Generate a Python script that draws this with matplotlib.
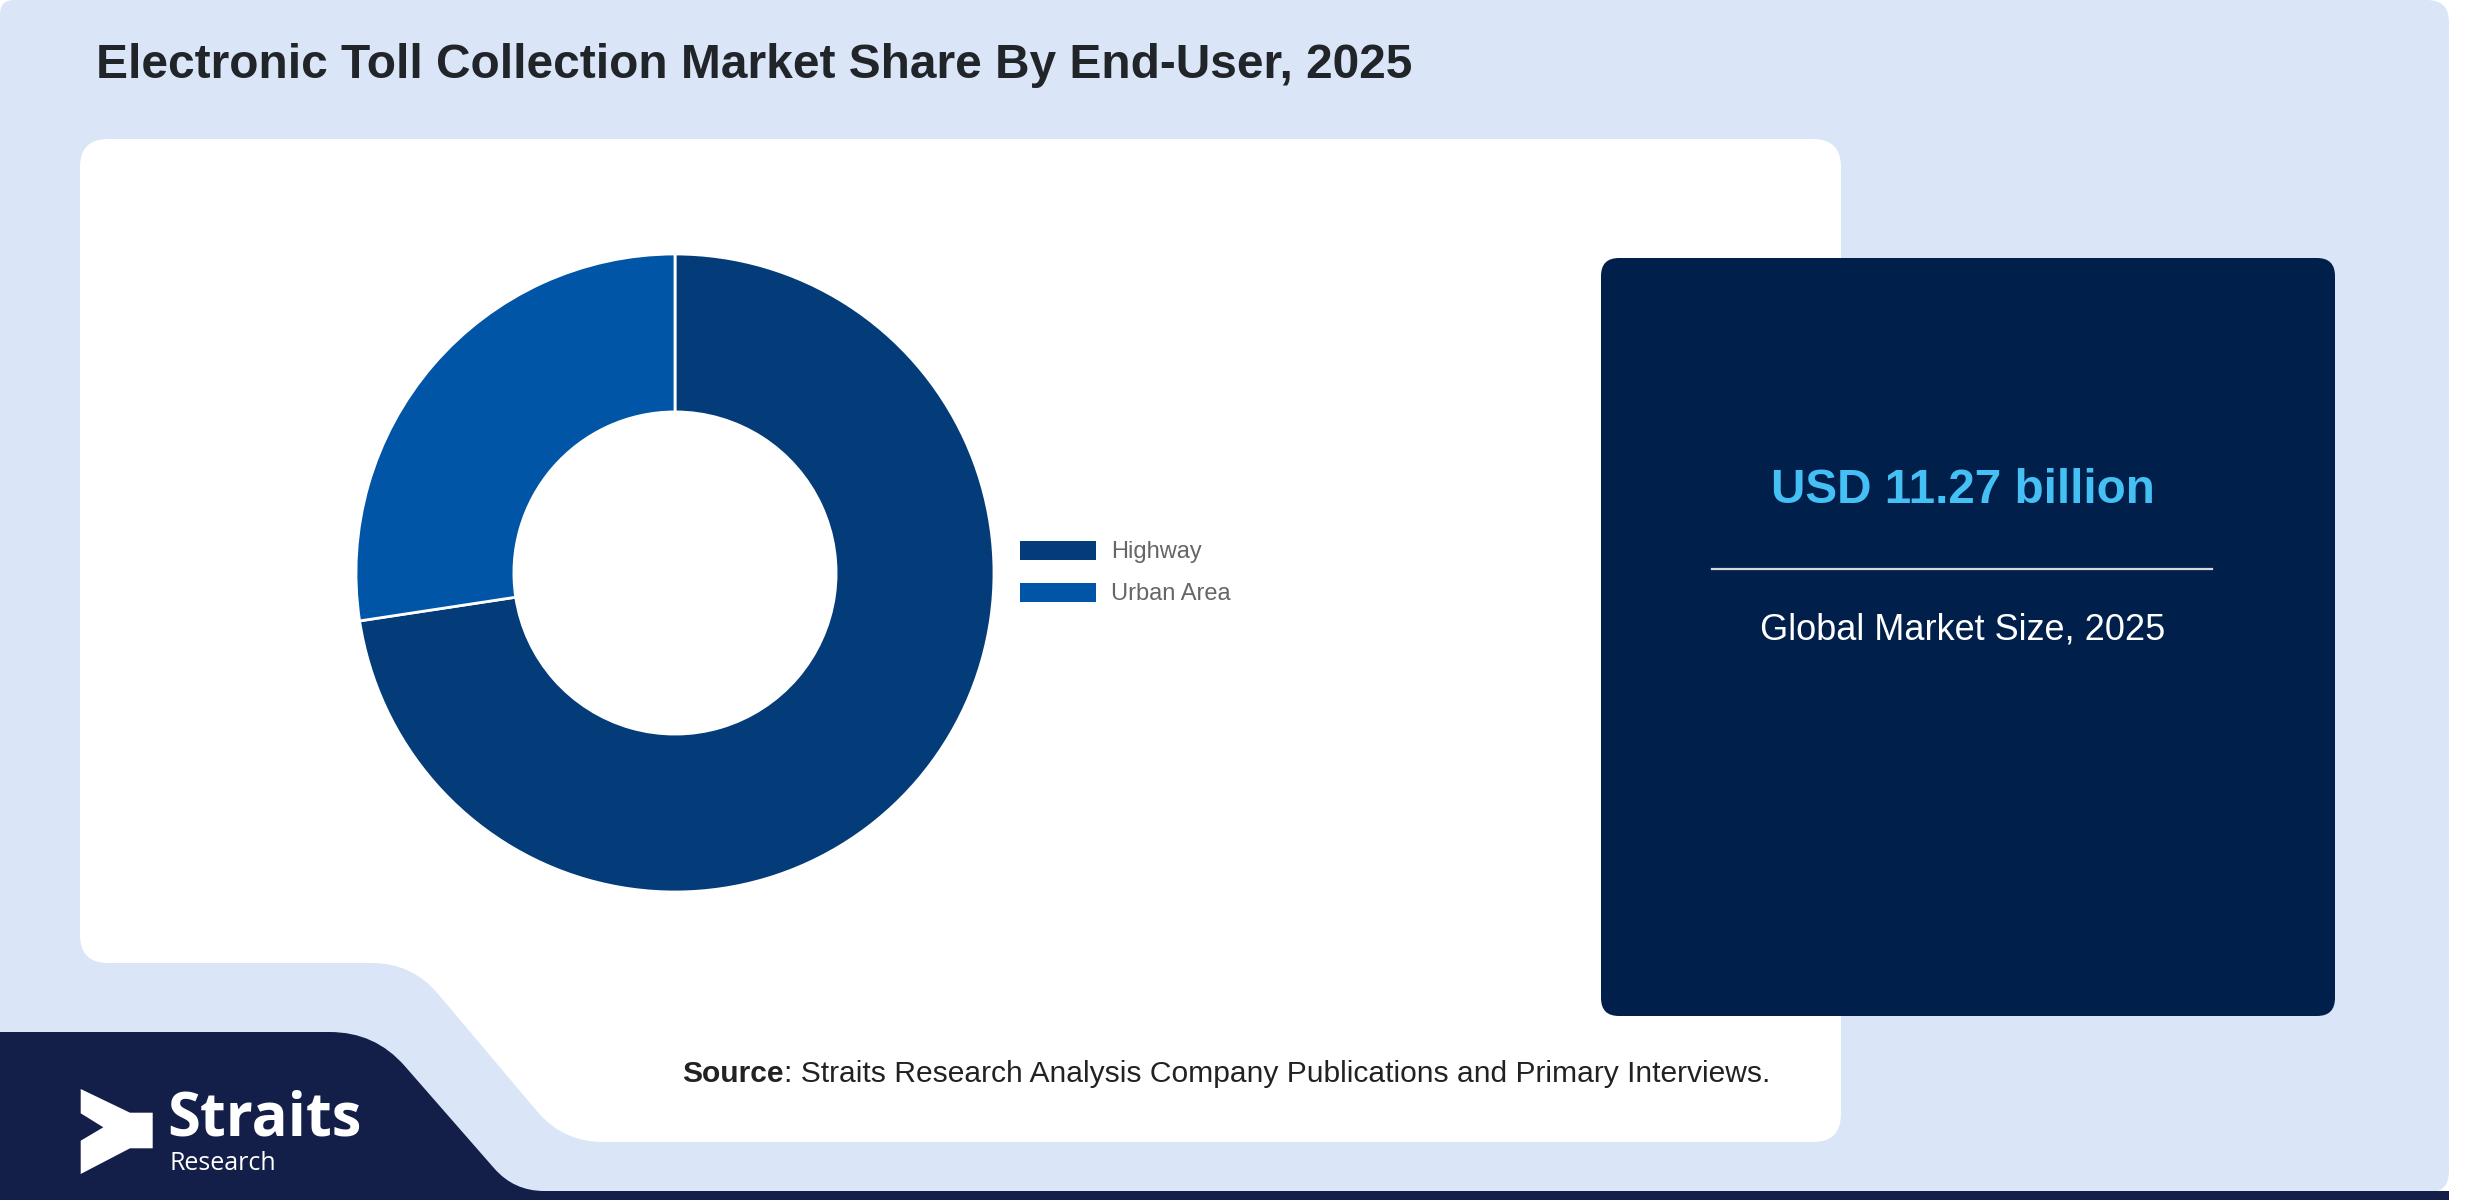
"""Electronic toll collection market share by end-user, donut chart"""
import numpy as np
import matplotlib
matplotlib.use("Agg")
import matplotlib.pyplot as plt
from matplotlib.path import Path
from matplotlib.patches import PathPatch, Patch, Polygon

plt.rcParams['font.family'] = ['Liberation Sans', 'DejaVu Sans']

# data
segments = ["Highway", "Urban Area"]
shares = [72.6, 27.4]
seg_colors = ["#033C78", "#0055A6"]
market_value = "USD 11.27 billion"
market_label = "Global Market Size, 2025"
title = "Electronic Toll Collection Market Share By End-User, 2025"
source_text = ": Straits Research Analysis Company Publications and Primary Interviews."


def rounded_poly(pts, radii, **kw):
    """polygon with rounded corners (quadratic curves)"""
    verts, codes = [], []
    n = len(pts)
    for i in range(n):
        p = np.array(pts[i], float)
        q = np.array(pts[i - 1], float)
        r = np.array(pts[(i + 1) % n], float)
        rad = radii[i]
        a = p + (q - p) / np.linalg.norm(q - p) * rad
        b = p + (r - p) / np.linalg.norm(r - p) * rad
        verts += [a, p, b]
        codes += [Path.MOVETO if i == 0 else Path.LINETO, Path.CURVE3, Path.CURVE3]
    verts.append(verts[0])
    codes.append(Path.CLOSEPOLY)
    return PathPatch(Path(verts, codes), **kw)


fig = plt.figure(figsize=(24.8, 12), dpi=100, facecolor="white")
ax = fig.add_axes([0, 0, 1, 1])
ax.set_xlim(0, 2480)
ax.set_ylim(1200, 0)
ax.axis('off')

# background
ax.add_patch(rounded_poly([(0, 0), (2449, 0), (2449, 1193), (0, 1193)],
                          [14, 22, 22, 22], facecolor="#DAE6F8", edgecolor="none"))
# white panel with cut corner
ax.add_patch(rounded_poly([(80, 139), (1841, 139), (1841, 1142), (563, 1142),
                           (412, 963), (80, 963)],
                          [28, 28, 28, 40, 40, 28], facecolor="white", edgecolor="none"))
# navy banner
ax.add_patch(rounded_poly([(0, 1032), (375, 1032), (514, 1191), (2449, 1191),
                           (2449, 1200), (0, 1200)],
                          [0.1, 45, 30, 0.1, 0.1, 0.1], facecolor="#131F48", edgecolor="none"))

# logo
ax.add_patch(Polygon([(80.7, 1089), (130, 1112.7), (152.7, 1112.7), (152.7, 1148.3),
                      (130, 1148.3), (80.7, 1174), (80.7, 1140.7), (103.3, 1127.3),
                      (80.7, 1113.3)], closed=True, facecolor="white", edgecolor="none"))
ax.text(167, 1135, "Straits", family=["Open Sans", "DejaVu Sans"], weight="bold",
        fontsize=43, color="white", va="baseline", ha="left")
ax.text(169, 1170, "Research", family=["Open Sans", "DejaVu Sans"],
        fontsize=18, color="white", va="baseline", ha="left")

# title
ax.text(96, 78, title, fontsize=34.5, weight="bold", color="#212529",
        va="baseline", ha="left")

# value card
ax.add_patch(rounded_poly([(1601, 258), (2335, 258), (2335, 1016), (1601, 1016)],
                          [18, 18, 18, 18], facecolor="#011F4B", edgecolor="none"))
ax.text(1963, 503, market_value, fontsize=34.3, weight="bold", color="#45C0F4",
        ha="center", va="baseline")
ax.plot([1712, 2212], [569, 569], color="#D5D8DE", lw=1.6)
ax.text(1963, 639, market_label, fontsize=26, color="white",
        ha="center", va="baseline")

# source line
t1 = ax.text(682, 1088, "Source", fontsize=21.6, weight="bold", color="#222222",
             ha="left", va="bottom")
ax.annotate(source_text, xy=(1, 0), xycoords=t1, fontsize=21.6, color="#222222",
            ha="left", va="bottom")

# donut
ax_pie = fig.add_axes([675 / 2480 - 319 / 2480, 1 - 573 / 1200 - 319 / 1200,
                       638 / 2480, 638 / 1200])
wedges, _ = ax_pie.pie(shares, colors=seg_colors, startangle=90, counterclock=False,
                       radius=1, wedgeprops=dict(width=0.495, edgecolor="white", linewidth=2))
ax_pie.set_xlim(-1, 1)
ax_pie.set_ylim(-1, 1)
ax_pie.axis('off')

handles = [Patch(facecolor=c, edgecolor="none") for c in seg_colors]
ax_pie.legend(handles, segments, loc="center left", bbox_to_anchor=(1020 / 2480, 1 - 573 / 1200),
              bbox_transform=fig.transFigure, frameon=False, fontsize=17,
              handlelength=3.2, handleheight=0.85, handletextpad=0.64,
              labelspacing=0.82, borderpad=0, borderaxespad=0, labelcolor="#666666")

fig.savefig("out.png", dpi=100, facecolor="white")
